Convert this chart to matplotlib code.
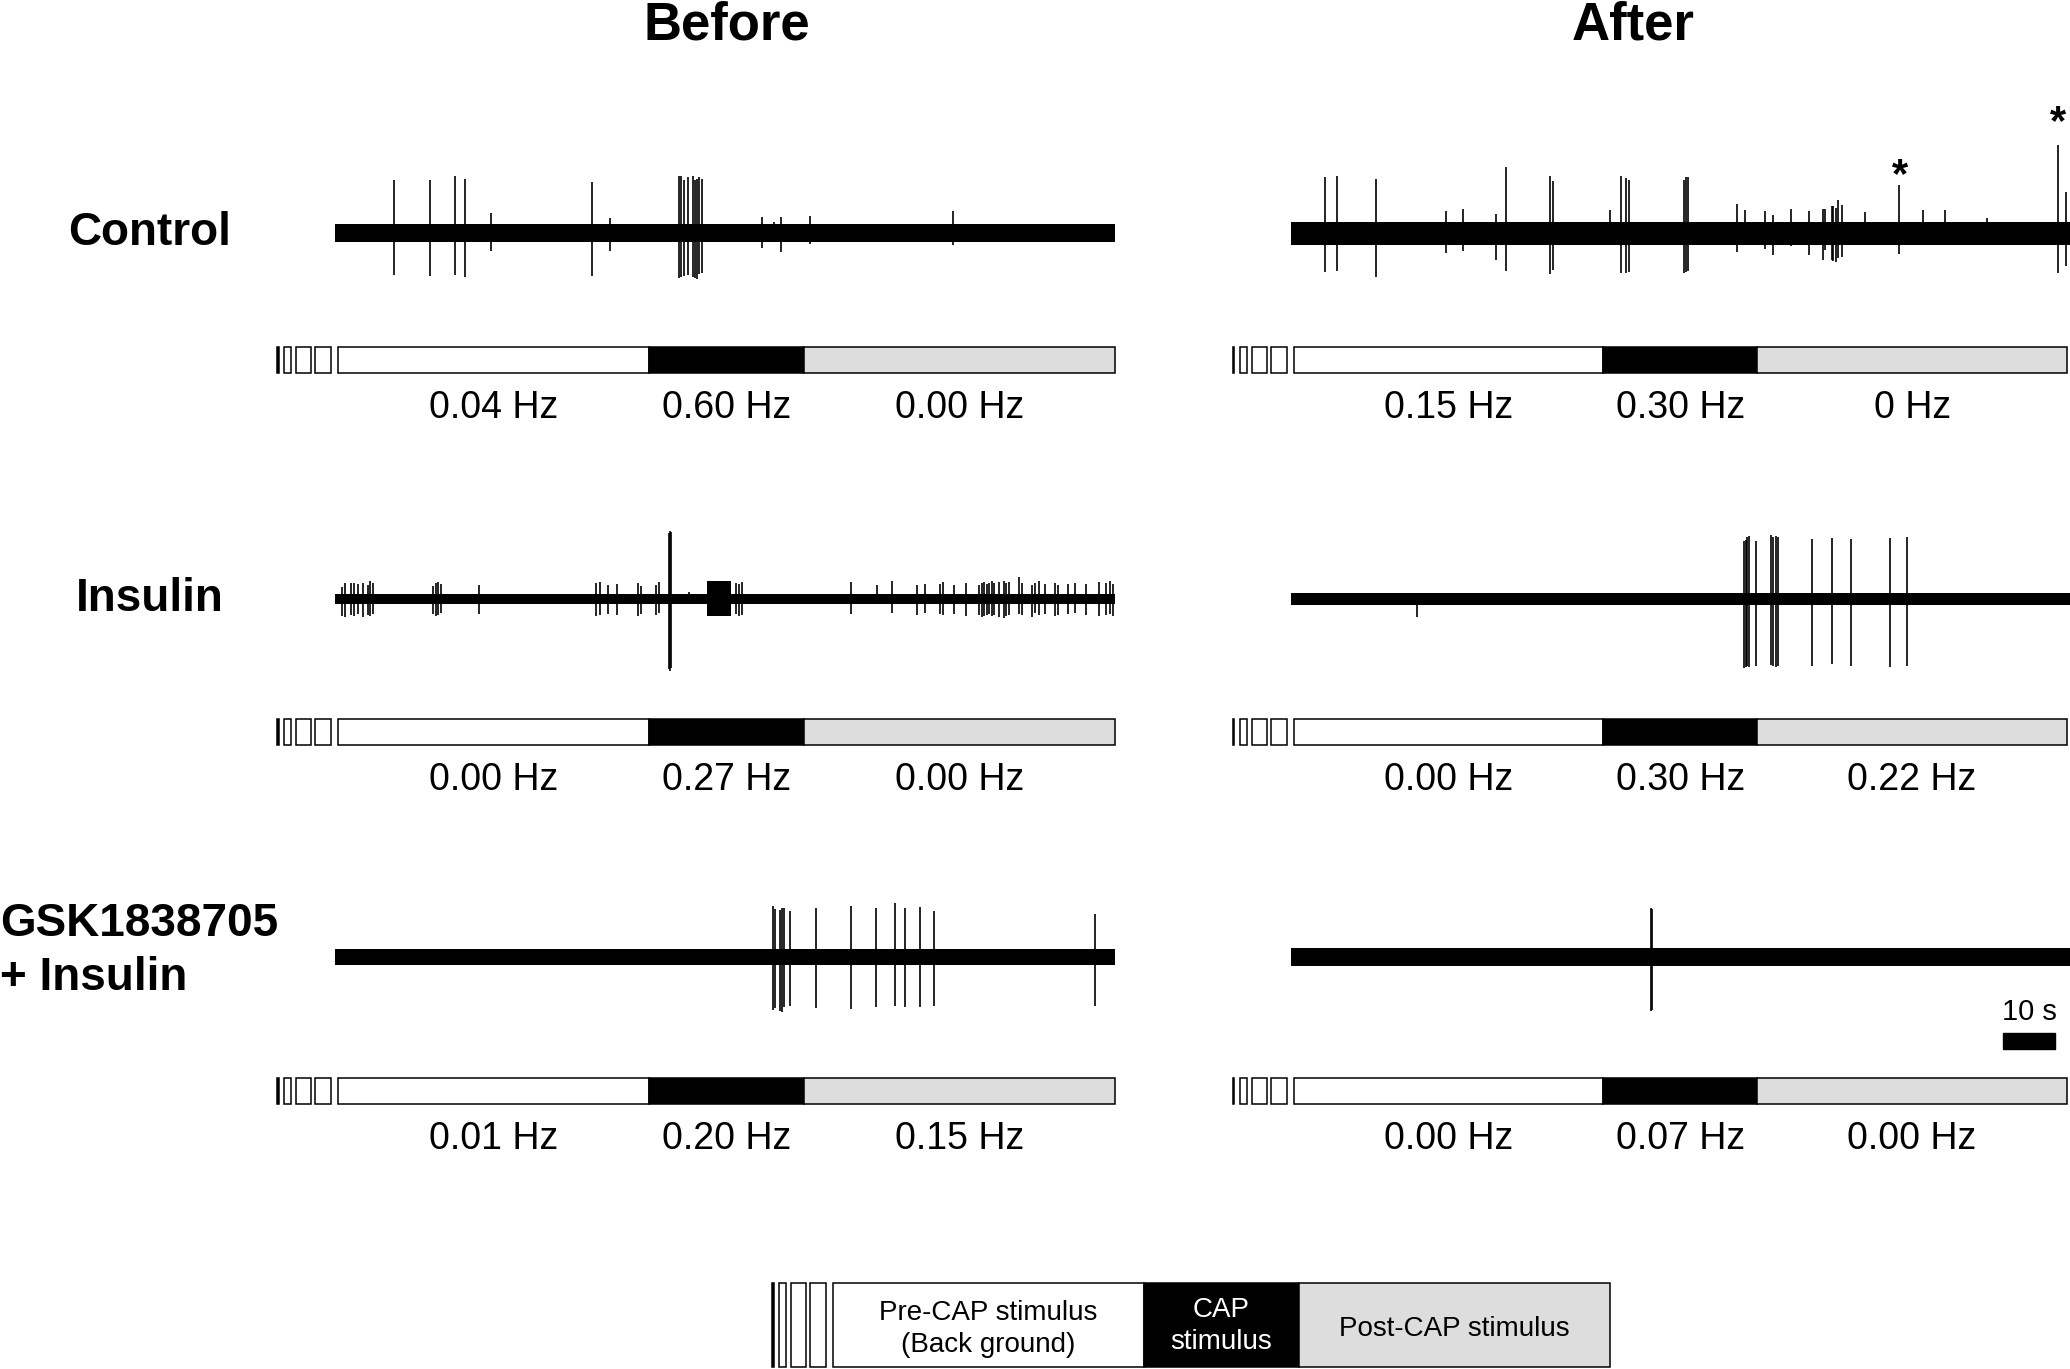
import matplotlib
matplotlib.use('Agg')
import matplotlib.pyplot as plt
from matplotlib.patches import Rectangle

plt.rcParams['font.family'] = ['Liberation Sans', 'DejaVu Sans']

col_titles = ['Before', 'After']
row_labels = ['Control', 'Insulin', 'GSK1838705', '+ Insulin']

# protocol: pre-CAP 60 s, CAP 30 s, post-CAP 60 s
phase_start = [0, 60, 90]
phase_len = [60, 30, 60]
phase_colors = ['white', 'black', '#dddddd']
# small stimulus marks drawn left of every protocol bar (s)
stim_start = [-11.8, -10.4, -8.1, -4.4]
stim_len = [0.35, 1.4, 2.9, 3.1]
stim_colors = ['black', 'white', 'white', 'white']

hz_before = [['0.04 Hz', '0.60 Hz', '0.00 Hz'],
             ['0.00 Hz', '0.27 Hz', '0.00 Hz'],
             ['0.01 Hz', '0.20 Hz', '0.15 Hz']]
hz_after = [['0.15 Hz', '0.30 Hz', '0 Hz'],
            ['0.00 Hz', '0.30 Hz', '0.22 Hz'],
            ['0.00 Hz', '0.07 Hz', '0.00 Hz']]

# noise band half height of each recording (a.u.)
noise_before = [9, 5, 8]
noise_after = [11.5, 6, 9]

# spike times (s) and peak up / down amplitudes (a.u.)
ctrl_before_t = [10.9, 17.7, 22.6, 24.6, 29.6, 49.1, 52.6, 65.8, 66.3, 66.8, 67.5,
                 68.6, 69.0, 69.4, 69.7, 70.3, 81.9, 84.2, 85.5, 91.1, 118.8]
ctrl_before_up = [53, 53, 57, 54, 20, 51, 15, 57, 57, 53, 56, 57, 53, 54, 56, 54, 16, 11, 16, 17, 22]
ctrl_before_dn = [42, 43, 42, 44, 18, 43, 18, 45, 44, 43, 42, 44, 45, 46, 41, 40, 15, 0, 19, 11, 12]

ctrl_after_t = [6.2, 8.4, 16.1, 29.6, 32.8, 39.2, 41.2, 49.8, 50.4, 61.4, 63.5, 64.5,
                65.1, 75.8, 76.1, 76.5, 86.1, 87.5, 91.5, 93.0, 96.5, 100.0, 102.8, 103.2,
                104.4, 104.7, 105.2, 105.6, 106.4, 110.9, 117.5, 122.2, 126.4, 134.5, 148.3, 149.8]
ctrl_after_up = [56, 57, 54, 22, 24, 19, 66, 57, 52, 23, 57, 55, 53, 53, 56, 56, 29, 23,
                 22, 18, 24, 22, 24, 24, 27, 27, 25, 33, 28, 21, 48, 23, 23, 15, 88, 41]
ctrl_after_dn = [39, 38, 44, 20, 18, 27, 38, 41, 37, 0, 40, 40, 39, 40, 39, 38, 19, 0,
                 16, 22, 13, 22, 27, 17, 27, 28, 29, 25, 24, 0, 21, 0, 0, 0, 40, 33]
star_t = [117.7, 148.3]

ins_before_t = [0.8, 1.4, 2.6, 3.1, 3.9, 4.9, 5.7, 6.1, 6.7, 18.4, 18.9, 19.4, 19.9, 27.2,
                49.9, 50.6, 52.1, 53.8, 58.0, 58.5, 61.4, 61.9, 63.9, 64.1, 64.3, 67.8,
                76.9, 77.4, 78.0, 99.0, 104.0, 106.9, 111.8, 113.3, 116.2, 116.7, 118.9,
                121.3, 123.8, 124.3, 124.8, 125.2, 125.7, 126.2, 126.7, 127.7, 128.5, 128.9,
                129.5, 131.4, 132.1, 133.9, 134.6, 135.4, 136.5, 138.5, 139.0, 141.0, 142.2,
                144.4, 146.9, 148.3, 149.1, 149.6]
ins_before_up = [12, 16, 16, 16, 15, 16, 14, 18, 16, 13, 16, 17, 15, 14,
                 16, 17, 14, 15, 16, 13, 14, 17, 66, 68, 67, 7,
                 16, 15, 17, 17, 14, 18, 14, 15, 15, 17, 14,
                 16, 14, 16, 17, 15, 16, 18, 16, 17, 18, 16,
                 17, 22, 16, 14, 16, 18, 15, 16, 14, 15, 16,
                 15, 17, 16, 18, 15]
ins_before_dn = [17, 18, 16, 17, 15, 18, 16, 17, 15, 15, 17, 16, 14, 15,
                 17, 16, 15, 16, 17, 15, 16, 14, 70, 72, 69, 0,
                 15, 17, 16, 15, 0, 14, 16, 14, 15, 16, 15,
                 17, 16, 18, 17, 16, 15, 17, 16, 18, 19, 17,
                 16, 15, 16, 18, 14, 16, 15, 17, 16, 15, 14,
                 16, 17, 16, 15, 17]
ins_before_burst = [71.2, 75.9]   # dense firing block (s)

ins_after_t = [23.9, 87.4, 87.7, 87.9, 88.3, 89.8, 92.6, 93.1, 93.6, 94.0, 100.5, 104.4, 108.1, 115.7, 119.0]
ins_after_up = [0, 58, 59, 62, 63, 58, 64, 62, 63, 62, 60, 61, 60, 61, 62]
ins_after_dn = [18, 69, 68, 67, 68, 67, 66, 67, 68, 67, 67, 65, 67, 68, 67]

gsk_before_t = [84.0, 84.3, 85.4, 85.8, 86.1, 87.2, 92.2, 99.0, 103.8, 107.6, 109.5, 112.3, 115.1, 146.2]
gsk_before_up = [51, 48, 47, 49, 49, 46, 49, 51, 49, 54, 49, 50, 46, 43]
gsk_before_dn = [53, 51, 54, 55, 50, 49, 51, 52, 50, 49, 50, 50, 49, 49]

gsk_after_t = [69.3, 69.6]
gsk_after_up = [49, 48]
gsk_after_dn = [54, 53]

spikes = {
    (0, 0): (ctrl_before_t, ctrl_before_up, ctrl_before_dn),
    (0, 1): (ctrl_after_t, ctrl_after_up, ctrl_after_dn),
    (1, 0): (ins_before_t, ins_before_up, ins_before_dn),
    (1, 1): (ins_after_t, ins_after_up, ins_after_dn),
    (2, 0): (gsk_before_t, gsk_before_up, gsk_before_dn),
    (2, 1): (gsk_after_t, gsk_after_up, gsk_after_dn),
}

# ---- layout (pixels of the 2070x1369 canvas) ----
W, H = 2070, 1369
col_px_per_s = [5.18, 5.155]
col_t0 = [338, 1293.5]
col_x = [(255, 1130), (1210, 2070)]
col_trace_end = [150, 151]
row_y = [(60, 440), (440, 810), (810, 1190)]
row_yc = [233, 599, 957]
bar_top = [347, 719, 1078]
BAR_H = 26

fig = plt.figure(figsize=(W / 100, H / 100), dpi=100)


def px_axes(x0, x1, y0, y1, t0, yc, pps):
    ax = fig.add_axes([x0 / W, 1 - y1 / H, (x1 - x0) / W, (y1 - y0) / H])
    ax.set_xlim((x0 - t0) / pps, (x1 - t0) / pps)
    ax.set_ylim(yc - y1, yc - y0)
    ax.axis('off')
    return ax


def protocol_bar(ax, y_mid, h):
    ax.barh(y_mid, phase_len, left=phase_start, height=h, color=phase_colors,
            edgecolor='k', linewidth=1.1)
    ax.barh(y_mid, stim_len, left=stim_start, height=h, color=stim_colors,
            edgecolor='k', linewidth=1.1)


for r in range(3):
    for c in range(2):
        ax = px_axes(col_x[c][0], col_x[c][1], row_y[r][0], row_y[r][1],
                     col_t0[c], row_yc[r], col_px_per_s[c])
        half = noise_before[r] if c == 0 else noise_after[r]
        t, up, dn = spikes[(r, c)]
        ax.fill_between([-0.5, col_trace_end[c]], -half, half, color='k', linewidth=0)
        ax.vlines(t, [-d for d in dn], up, color='k', linewidth=1.2)
        if (r, c) == (1, 0):
            ax.fill_between(ins_before_burst, -17, 18, color='k', linewidth=0)

        y_mid = row_yc[r] - (bar_top[r] + BAR_H / 2)
        protocol_bar(ax, y_mid, BAR_H)
        labels = hz_before[r] if c == 0 else hz_after[r]
        for s, L, txt in zip(phase_start, phase_len, labels):
            ax.text(s + L / 2, y_mid - BAR_H / 2 - 35, txt, ha='center', va='center', fontsize=27)

        if (r, c) == (0, 1):
            ax.text(star_t[0], 57, '*', ha='center', va='center', fontsize=30, fontweight='bold')
            ax.text(star_t[1], 110, '*', ha='center', va='center', fontsize=30, fontweight='bold')
        if (r, c) == (2, 1):
            # 10 s scale bar
            ax.add_patch(Rectangle((137.7, -92), 10, 16, color='k', clip_on=False))
            ax.text(142.7, -55, '10 s', ha='center', va='center', fontsize=21)

# titles and row labels (baselines in px)
fig.text(727 / W, 1 - 40 / H, col_titles[0], ha='center', va='baseline', fontsize=38, fontweight='bold')
fig.text(1633 / W, 1 - 40 / H, col_titles[1], ha='center', va='baseline', fontsize=38, fontweight='bold')
fig.text(150 / W, 1 - 245 / H, row_labels[0], ha='center', va='baseline', fontsize=33, fontweight='bold')
fig.text(150 / W, 1 - 611 / H, row_labels[1], ha='center', va='baseline', fontsize=33, fontweight='bold')
fig.text(0, 1 - 936 / H, row_labels[2], ha='left', va='baseline', fontsize=33, fontweight='bold')
fig.text(0, 1 - 990 / H, row_labels[3], ha='left', va='baseline', fontsize=33, fontweight='bold')

# legend bar
lax = px_axes(700, 1700, 1270, 1369, 833, 1325, 5.18)
protocol_bar(lax, 0, 84)
lax.text(30, -4, 'Pre-CAP stimulus\n(Back ground)', ha='center', va='center', fontsize=20, linespacing=1.3)
lax.text(75, -1, 'CAP\nstimulus', ha='center', va='center', fontsize=20, color='white', linespacing=1.3)
lax.text(120, -4, 'Post-CAP stimulus', ha='center', va='center', fontsize=20)

fig.savefig('out.png', dpi=100)
